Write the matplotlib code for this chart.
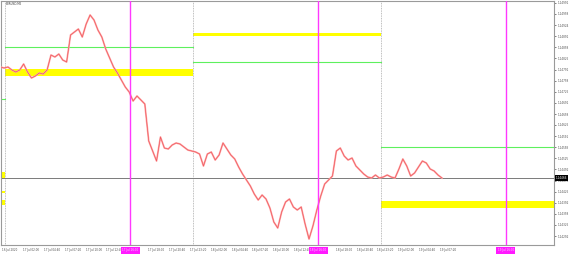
import matplotlib
matplotlib.use("Agg")
import matplotlib.pyplot as plt
import numpy as np

# ---------------------------------------------------------------------------
# Data (EURUSD M5, one sample every 6 bars)
# ---------------------------------------------------------------------------

symbol = "EURUSD,M5"
first_bar = -8
bar_step = 6
close = [
    1.14799, 1.14796, 1.14799, 1.14790, 1.14784, 1.14790, 1.14808, 1.14784,
    1.14766, 1.14772, 1.14781, 1.14778, 1.14790, 1.14835, 1.14829, 1.14838,
    1.14820, 1.14814, 1.14895, 1.14904, 1.14913, 1.14889, 1.14928, 1.14955,
    1.14940, 1.14910, 1.14889, 1.14853, 1.14826, 1.14799, 1.14781, 1.14760,
    1.14739, 1.14724, 1.14697, 1.14712, 1.14700, 1.14688, 1.14577, 1.14547,
    1.14517, 1.14589, 1.14556, 1.14553, 1.14565, 1.14571, 1.14568, 1.14559,
    1.14550, 1.14547, 1.14544, 1.14538, 1.14502, 1.14538, 1.14544, 1.14520,
    1.14535, 1.14571, 1.14553, 1.14535, 1.14523, 1.14499, 1.14478, 1.14460,
    1.14442, 1.14418, 1.14400, 1.14415, 1.14403, 1.14376, 1.14334, 1.14316,
    1.14364, 1.14394, 1.14403, 1.14379, 1.14370, 1.14379, 1.14328, 1.14283,
    1.14322, 1.14370, 1.14412, 1.14448, 1.14460, 1.14472, 1.14547, 1.14556,
    1.14532, 1.14520, 1.14526, 1.14502, 1.14490, 1.14478, 1.14469, 1.14466,
    1.14475, 1.14466, 1.14469, 1.14475, 1.14469, 1.14466, 1.14493, 1.14523,
    1.14502, 1.14472, 1.14481, 1.14499, 1.14517, 1.14511, 1.14493, 1.14487,
    1.14475, 1.14466,
]
bid = 1.14466

day_starts = [0, 288, 576]

# yellow zones: (start bar, end bar, low, high)
zone_start = [-20, -20, -20, 0, 288, 576]
zone_end = [0, 0, 0, 288, 576, 900]
zone_low = [1.14463, 1.14421, 1.14385, 1.14772, 1.14892, 1.14376]
zone_high = [1.14484, 1.14427, 1.14400, 1.14793, 1.14901, 1.14397]

# green levels
level_start = [-20, 0, 288, 576]
level_end = [0, 288, 576, 900]
level_price = [1.14703, 1.14859, 1.14814, 1.14559]

vline_bars = [192, 480, 768]
vline_labels = ["17 Jul 16:00", "18 Jul 16:00", "19 Jul 16:00"]

price_ticks = [
    1.14991, 1.14958, 1.14924, 1.14891, 1.14858, 1.14825, 1.14791, 1.14758,
    1.14725, 1.14691, 1.14658, 1.14625, 1.14591, 1.14558, 1.14525, 1.14492,
    1.14458, 1.14425, 1.14392, 1.14358, 1.14325, 1.14292,
]

# the 15:20 labels sit under the event-line boxes, so they are not listed
time_label_bars = [-8, 24, 56, 88, 120, 152, 216, 248, 280, 312, 344, 376,
                   408, 440, 504, 536, 568, 600, 632, 664]
time_labels = [
    "16 Jul 2020",
    "17 Jul 02:00", "17 Jul 04:40", "17 Jul 07:20", "17 Jul 10:00",
    "17 Jul 12:40", "17 Jul 18:00", "17 Jul 20:40", "17 Jul 23:20",
    "18 Jul 02:00", "18 Jul 04:40", "18 Jul 07:20", "18 Jul 10:00",
    "18 Jul 12:40", "18 Jul 18:00", "18 Jul 20:40", "18 Jul 23:20",
    "19 Jul 02:00", "19 Jul 04:40", "19 Jul 07:20",
]

# ---------------------------------------------------------------------------

W, H = 570, 256
fig = plt.figure(figsize=(W / 100, H / 100), dpi=100)
fig.patch.set_facecolor("white")
ax = fig.add_axes([0.5 / W, 11 / H, 553.5 / W, 244 / H])
ax.set_xlim(-7.5, 842)
ax.set_ylim(1.14265, 1.14997)

FS = 2.0
grey = "#9a9a9a"

# zones and levels
for s, e, lo, hi in zip(zone_start, zone_end, zone_low, zone_high):
    ax.fill_between([s, e], lo, hi, color="#ffff00", lw=0, zorder=1)
for s, e, p in zip(level_start, level_end, level_price):
    ax.plot([s, e], [p, p], color="#5ef05e", lw=0.8, zorder=2)

# day separators
for d in day_starts:
    ax.axvline(d, color="#a8a8a8", lw=0.6, ls=(0, (1, 1)), zorder=1)

# bid line
ax.axhline(bid, color="#7a7a7a", lw=0.7, zorder=2)

# price
bars = first_bar + bar_step * np.arange(len(close))
ax.plot(bars, close, color="#ffa8a8", lw=1.3, zorder=3)
ax.plot(bars, close, color="#ee5a60", lw=0.5, zorder=4)

# vertical event lines
for b in vline_bars:
    ax.axvline(b, color="#ff38ff", lw=1.0, zorder=5)

# spines
for sp in ax.spines.values():
    sp.set_color(grey)
    sp.set_linewidth(0.8)

# right price axis
ax.yaxis.tick_right()
ax.set_yticks(price_ticks)
ax.set_yticklabels([f"{p:.5f}" for p in price_ticks])
ax.tick_params(axis="y", labelsize=FS, colors="#505050", length=1.5, width=0.5, pad=1.5)
ax.tick_params(axis="x", bottom=False, labelbottom=False)

ax.annotate(f"{bid:.5f}", xy=(1, bid), xycoords=("axes fraction", "data"),
            xytext=(2, 0), textcoords="offset pixels", ha="left", va="center",
            fontsize=FS, color="white", zorder=10, annotation_clip=False,
            bbox=dict(boxstyle="square,pad=0.35", fc="black", ec="none"))

# time labels
for b, lbl in zip(time_label_bars, time_labels):
    ax.annotate(lbl, xy=(b, 0), xycoords=("data", "axes fraction"),
                xytext=(2, -5.5), textcoords="offset pixels", ha="left", va="center",
                fontsize=FS, color="#505050", annotation_clip=False)
for b, lbl in zip(vline_bars, vline_labels):
    ax.annotate(lbl, xy=(b, 0), xycoords=("data", "axes fraction"),
                xytext=(0, -5.5), textcoords="offset pixels", ha="center", va="center",
                fontsize=FS, color="#ffd0ff", zorder=10, annotation_clip=False,
                bbox=dict(boxstyle="square,pad=0.5", fc="#ff1aff", ec="none"))

fig.text(6 / W, 1 - 4 / H, symbol, fontsize=FS, color="#404040", ha="left", va="center")

fig.savefig("out.png", dpi=100, facecolor="white")
